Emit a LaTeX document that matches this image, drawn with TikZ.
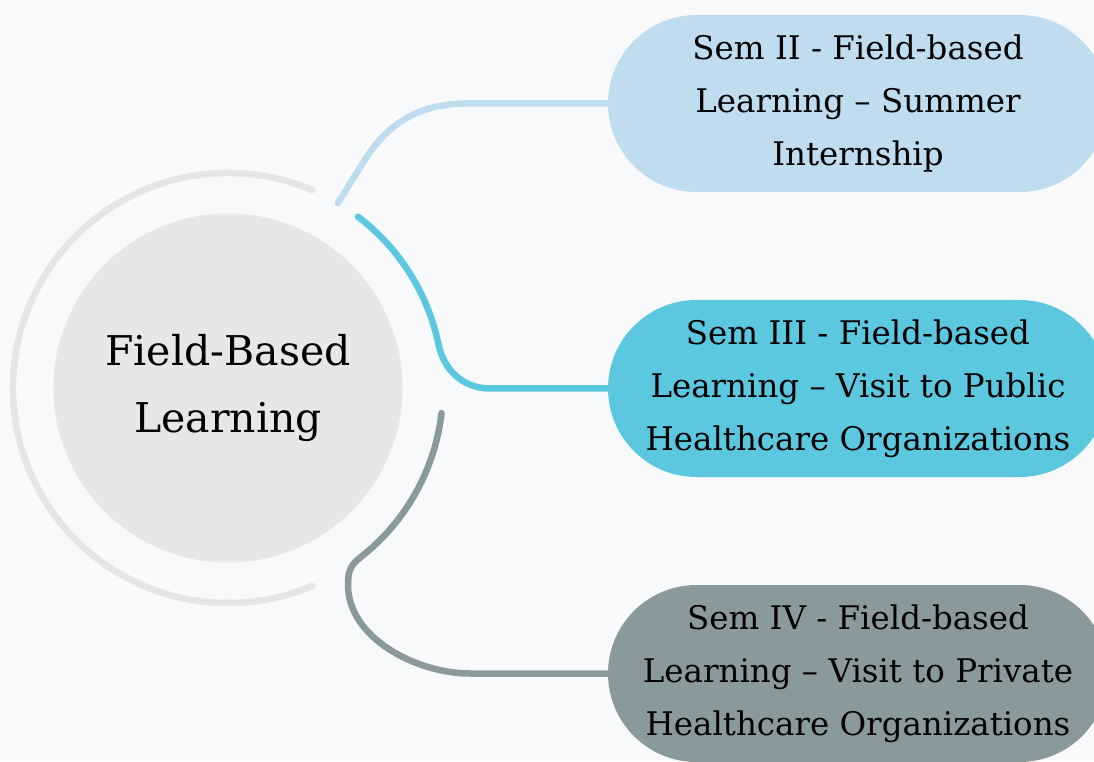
\documentclass[tikz,border=0pt]{standalone}
\usepackage{fontspec}
\setmainfont{DejaVu Serif}
\usepackage{xcolor}
\usetikzlibrary{calc, shapes.misc}

\definecolor{bgcol}{HTML}{F8F9FB}
\definecolor{hubgray}{HTML}{E6E7E9}
\definecolor{ringgray}{HTML}{E4E5E7}
\definecolor{semtwo}{HTML}{BFDDEF}
\definecolor{semthree}{HTML}{5BC8E0}
\definecolor{semfour}{HTML}{8A9A9B}

\begin{document}
\begin{tikzpicture}[x = 1pt, y = 1pt,
		hub/.style = {circle, fill = hubgray, minimum size = 349pt, inner sep = 0pt,
			align = center, font = \fontsize{41}{67}\selectfont},
		pill/.style = {rounded rectangle, minimum width = 500pt, minimum height = 177pt,
			inner sep = 0pt, align = center, font = \fontsize{32.5}{53}\selectfont},
		link/.style = {line width = 6.5pt, line cap = round}]
	\def\rRING{215};

	\useasboundingbox [fill = bgcol] (0,0) rectangle (1094,761);

	\begin{scope}
		\node [hub] (hub) at (228,373) {Field-Based\\Learning};
		\draw [link, ringgray] ($(hub.center)+(67:\rRING)$)
			arc [start angle = 67, end angle = 293, radius = \rRING];
	\end{scope}

	\begin{scope}
		\node [pill, fill = semtwo] (sem2) at (858,657.5)
			{Sem II - Field-based\\Learning -- Summer\\Internship};
		\node [pill, fill = semthree] (sem3) at (858,372.5)
			{Sem III - Field-based\\Learning -- Visit to Public\\Healthcare Organizations};
		\node [pill, fill = semfour] (sem4) at (858,87.5)
			{Sem IV - Field-based\\Learning -- Visit to Private\\Healthcare Organizations};
	\end{scope}

	\begin{scope}
		\coordinate (c2) at ($(hub.center)+(59.3:\rRING)$);
		\coordinate (c3) at ($(hub.center)+(52.8:\rRING)$);
		\coordinate (c4) at ($(hub.center)+(-6.7:\rRING)$);

		\draw [link, semtwo] (c2) -- ++(58:50)
			to [out = 58, in = 180] ($(sem2.west)+(-141,0)$) -- (sem2.west);
		\draw [link, semthree] (c3) arc [start angle = 52.8, end angle = 11.6, radius = \rRING]
			to [out = -78, in = 180] ($(sem3.west)+(-118,0)$) -- (sem3.west);
		\draw [link, semfour] (c4) arc [start angle = -6.7, end angle = -48, radius = \rRING]
			to [out = -138, in = 90, looseness = 1.3] (348,176)
			to [out = -90, in = 180, looseness = 0.9] ($(sem4.west)+(-138,0)$) -- (sem4.west);
	\end{scope}
\end{tikzpicture}
\end{document}
